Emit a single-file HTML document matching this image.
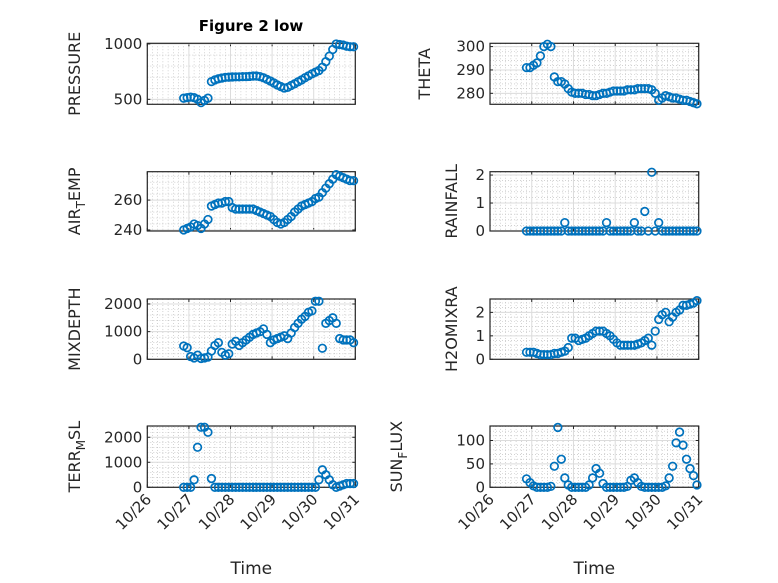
<!DOCTYPE html>
<html><head><meta charset="utf-8"><style>
body{margin:0;background:#fff}
svg{display:block;font-family:"DejaVu Sans","Liberation Sans",sans-serif}
</style></head><body>
<svg id="fig" width="778" height="583" viewBox="0 0 778 583" xmlns="http://www.w3.org/2000/svg">
<rect width="778" height="583" fill="#fff"/>
<text x="251" y="31" text-anchor="middle" font-size="15" font-weight="bold" fill="#000">Figure 2 low</text>
</svg>
<script>
// hours since 10/26 00:00
const hours = [21,23,25,27,29,31,33,35,37,39,41,43,45,47,49,51,53,55,57,59,61,63,65,67,69,71,73,75,77,79,81,83,85,87,89,91,93,95,97,99,101,103,105,107,109,111,113,115,117,119];
const xTickLabels = ["10/26","10/27","10/28","10/29","10/30","10/31"];
const pressure = [510,515,520,515,500,470,490,510,660,675,685,692,698,700,702,703,703,705,705,707,710,710,705,695,680,665,648,630,615,602,608,625,640,658,675,695,712,730,745,760,790,840,890,950,1000,995,990,980,975,975];
const theta = [291,291,292,293,296,300,301,300,287,285,285,284,282,280.5,280,280,280,279.5,279.5,279,279,279.5,280,280,280.5,281,281,281,281,281.5,281.5,281.5,282,282,282,282,281.5,280,277,278,279,278.5,278,278,277.5,277,277,276.5,276,275.5];
const airTemp = [240,241,242,244,243,241,244,247,256,257,258,258,259,259,255,254,254,254,254,254,254,253,252,251,250,249,247,245,244,245,247,249,252,254,256,257,258,259,261,262,265,268,271,274,277,276,275,274,273,273];
const rainfall = [0,0,0,0,0,0,0,0,0,0,0,0.3,0,0,0,0,0,0,0,0,0,0,0,0.3,0,0,0,0,0,0,0,0.3,0,0,0.7,0,2.1,0,0.3,0,0,0,0,0,0,0,0,0,0,0];
const mixDepth = [480,420,100,50,150,30,50,80,300,500,600,250,150,200,550,650,500,600,700,800,900,950,1000,1100,900,600,700,750,800,850,750,950,1150,1300,1450,1550,1700,1750,2100,2100,400,1300,1400,1500,1300,750,700,700,700,600];
const h2oMix = [0.3,0.3,0.3,0.25,0.2,0.2,0.2,0.2,0.25,0.25,0.3,0.35,0.5,0.9,0.9,0.8,0.85,0.9,1.0,1.1,1.2,1.2,1.2,1.1,1.0,0.85,0.7,0.6,0.6,0.6,0.6,0.6,0.65,0.7,0.8,0.9,0.6,1.2,1.7,1.9,2.0,1.6,1.8,2.0,2.1,2.3,2.3,2.35,2.4,2.5];
const terrMsl = [0,0,0,300,1600,2400,2400,2200,350,0,0,0,0,0,0,0,0,0,0,0,0,0,0,0,0,0,0,0,0,0,0,0,0,0,0,0,0,0,0,300,700,500,300,100,0,50,100,150,150,150];
const sunFlux = [18,10,3,0,0,0,0,2,45,128,60,20,5,0,0,0,0,0,5,20,40,30,8,0,0,0,0,0,0,2,15,20,10,2,0,0,0,0,0,0,3,20,45,95,118,90,60,40,25,5];
const pressureTicks = [500,1000], thetaTicks=[280,290,300], airTicks=[240,260], rainTicks=[0,1,2], mixTicks=[0,1000,2000], h2oTicks=[0,1,2], terrTicks=[0,1000,2000], sunTicks=[0,50,100];

const NS="http://www.w3.org/2000/svg";
const svg=document.getElementById('fig');
function mk(tag,attrs,parent){const e=document.createElementNS(NS,tag);for(const k in attrs)e.setAttribute(k,attrs[k]);(parent||svg).appendChild(e);return e;}

const L=[147.3,355.3], R=[490,698.7];
const rows=[[43.3,104.3],[171.7,231],[299,359.3],[426,487.3]];
const panels=[
 {name:'pressure',col:L,row:0,data:pressure,ylim:[455,1006],ticks:pressureTicks,minor:100,label:['PRESSURE'],lx:80},
 {name:'theta',col:R,row:0,data:theta,ylim:[275.3,301.4],ticks:thetaTicks,minor:2,label:['THETA'],lx:430},
 {name:'air-temp',col:L,row:1,data:airTemp,ylim:[239.3,279],ticks:airTicks,minor:4,label:['AIR','T','EMP'],lx:80},
 {name:'rainfall',col:R,row:1,data:rainfall,ylim:[0,2.12],ticks:rainTicks,minor:0.2,label:['RAINFALL'],lx:457},
 {name:'mixdepth',col:L,row:2,data:mixDepth,ylim:[0,2180],ticks:mixTicks,minor:200,label:['MIXDEPTH'],lx:80},
 {name:'h2omixra',col:R,row:2,data:h2oMix,ylim:[0,2.57],ticks:h2oTicks,minor:0.2,label:['H2OMIXRA'],lx:457},
 {name:'terr-msl',col:L,row:3,data:terrMsl,ylim:[0,2450],ticks:terrTicks,minor:200,label:['TERR','M','SL'],lx:80,xl:true},
 {name:'sun-flux',col:R,row:3,data:sunFlux,ylim:[0,131],ticks:sunTicks,minor:10,label:['SUN','F','LUX'],lx:402,xl:true}
];
panels.forEach(p=>{
  const [x0,x1]=p.col,[y0,y1]=rows[p.row];
  const xs=h=>x0+(h/24)/5*(x1-x0);
  const ys=v=>y1-(v-p.ylim[0])/(p.ylim[1]-p.ylim[0])*(y1-y0);
  const g=mk('g',{});
  
  
  mk('rect',{x:x0,y:y0,width:x1-x0,height:y1-y0,fill:'#fff'},g);
  for(let h=0;h<=120;h+=3){if(h%24===0)continue;const x=xs(h);mk('line',{x1:x,x2:x,y1:y0,y2:y1,stroke:'#b8b8b8','stroke-width':0.6,'stroke-dasharray':'1,2'},g);}
  for(let v=Math.ceil(p.ylim[0]/p.minor)*p.minor;v<p.ylim[1];v+=p.minor){const y=ys(v);mk('line',{x1:x0,x2:x1,y1:y,y2:y,stroke:'#b8b8b8','stroke-width':0.6,'stroke-dasharray':'1,2'},g);}
  xTickLabels.forEach((lab,i)=>{const x=xs(i*24);
    mk('line',{x1:x,x2:x,y1:y0,y2:y1,stroke:'#dcdcdc','stroke-width':1},g);
    mk('line',{x1:x,x2:x,y1:y1,y2:y1-3,stroke:'#262626','stroke-width':1},g);
    mk('line',{x1:x,x2:x,y1:y0,y2:y0+3,stroke:'#262626','stroke-width':1},g);
    if(p.xl){const t=mk('text',{x:x+5,y:y1+13,'text-anchor':'end','font-size':15,fill:'#262626',transform:`rotate(-45 ${x+5} ${y1+13})`},g);t.textContent=lab;
      
      }
  });
  p.ticks.forEach(v=>{const y=ys(v);
    mk('line',{x1:x0,x2:x1,y1:y,y2:y,stroke:'#dcdcdc','stroke-width':1},g);
    mk('line',{x1:x0,x2:x0+3,y1:y,y2:y,stroke:'#262626','stroke-width':1},g);
    mk('line',{x1:x1,x2:x1-3,y1:y,y2:y,stroke:'#262626','stroke-width':1},g);
    const t=mk('text',{x:x0-5,y:y+5,'text-anchor':'end','font-size':15,fill:'#262626'},g);t.textContent=String(v);
    
    
  });
  mk('rect',{x:x0,y:y0,width:x1-x0,height:y1-y0,fill:'none',stroke:'#262626','stroke-width':1.2},g);
  const n=Math.min(hours.length,p.data.length);
  for(let i=0;i<n;i++){
    const c=mk('circle',{cx:xs(hours[i]),cy:ys(p.data[i]),r:3.8,fill:'none',stroke:'#0072BD','stroke-width':1.7},g);
    
    
  }
  const cy=(y0+y1)/2;
  const t=mk('text',{x:p.lx,y:cy,'text-anchor':'middle','font-size':16,fill:'#262626',transform:`rotate(-90 ${p.lx} ${cy})`},g);
  
  
  if(p.label.length===1){t.textContent=p.label[0];}
  else{const a=mk('tspan',{},t);a.textContent=p.label[0];
    const b=mk('tspan',{dy:5,'font-size':12},t);b.textContent=p.label[1];
    const c=mk('tspan',{dy:-5},t);c.textContent=p.label[2];}
  if(p.xl){const xt=mk('text',{x:(x0+x1)/2,y:574,'text-anchor':'middle','font-size':17,fill:'#262626'},g);xt.textContent='Time';
    
    }
});
</script>
</body></html>
